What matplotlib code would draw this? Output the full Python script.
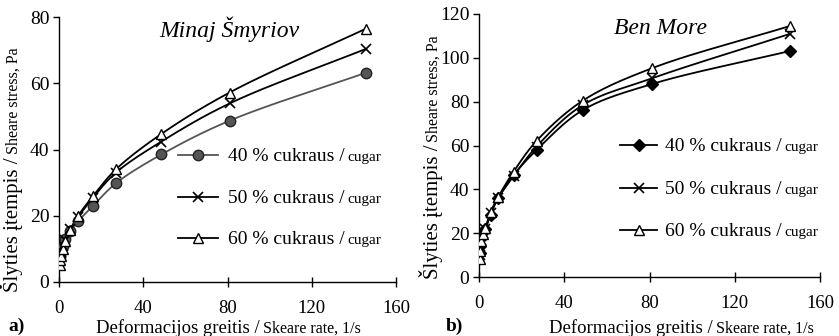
import numpy as np
import matplotlib
matplotlib.use('Agg')
import matplotlib.pyplot as plt
from matplotlib.lines import Line2D
from matplotlib.transforms import IdentityTransform

plt.rcParams['font.family'] = 'serif'
plt.rcParams['font.serif'] = ['Liberation Serif', 'DejaVu Serif']

# shear rate steps of the rotational viscometer, 1/s
rate = [0.333, 0.6, 1.0, 1.8, 3.0, 5.4, 9.0, 16.2, 27.0, 48.6, 81.0, 145.8]

# shear stress, Pa -- Minaj Smyriov
ms_40 = [7.5, 8.5, 9.5, 11.0, 13.0, 15.5, 18.3, 23.0, 29.8, 38.5, 48.7, 63.2]
ms_50 = [6.5, 7.8, 9.0, 10.8, 12.8, 16.0, 19.5, 25.5, 33.0, 42.4, 53.9, 70.4]
ms_60 = [5.0, 6.5, 8.0, 10.0, 12.3, 15.8, 19.9, 26.0, 34.0, 44.7, 57.2, 76.5]

# shear stress, Pa -- Ben More
bm_40 = [11.0, 14.0, 18.0, 20.5, 22.0, 28.5, 36.0, 46.5, 57.9, 76.1, 88.0, 103.1]
bm_50 = [10.0, 13.0, 17.0, 20.0, 22.0, 29.0, 36.0, 46.0, 59.5, 78.4, 90.6, 110.9]
bm_60 = [8.4, 12.0, 16.5, 19.5, 22.5, 29.5, 36.5, 48.0, 62.1, 80.4, 95.2, 114.5]

legend_big = ['40 % cukraus /', '50 % cukraus /', '60 % cukraus /']
legend_small = 'cugar'

W, H = 839, 336
fig = plt.figure(figsize=(W / 100, H / 100), dpi=100)
pix = IdentityTransform()


def smooth(ax, x, y, n=24):
    """Centripetal Catmull-Rom curve through the points, built in screen space."""
    p = ax.transData.transform(np.column_stack([x, y]))
    p = np.vstack([2 * p[0] - p[1], p, 2 * p[-1] - p[-2]])
    out = []
    for i in range(1, len(p) - 2):
        p0, p1, p2, p3 = p[i - 1], p[i], p[i + 1], p[i + 2]
        t0 = 0.0
        t1 = t0 + np.linalg.norm(p1 - p0) ** 0.5 + 1e-9
        t2 = t1 + np.linalg.norm(p2 - p1) ** 0.5 + 1e-9
        t3 = t2 + np.linalg.norm(p3 - p2) ** 0.5 + 1e-9
        t = np.linspace(t1, t2, n)[:, None]
        a1 = (t1 - t) / (t1 - t0) * p0 + (t - t0) / (t1 - t0) * p1
        a2 = (t2 - t) / (t2 - t1) * p1 + (t - t1) / (t2 - t1) * p2
        a3 = (t3 - t) / (t3 - t2) * p2 + (t - t2) / (t3 - t2) * p3
        b1 = (t2 - t) / (t2 - t0) * a1 + (t - t0) / (t2 - t0) * a2
        b2 = (t3 - t) / (t3 - t1) * a2 + (t - t1) / (t3 - t1) * a3
        out.append((t2 - t) / (t2 - t1) * b1 + (t - t1) / (t2 - t1) * b2)
    c = ax.transData.inverted().transform(np.vstack(out))
    return c[:, 0], c[:, 1]


def pieces(parts, x, y, rotation=0, gap=3):
    """Write text pieces of different sizes one after another on a baseline."""
    r = fig.canvas.get_renderer()
    for s, size, kw in parts:
        t = fig.text(x, y, s, fontsize=size, rotation=rotation,
                     rotation_mode='anchor', ha='left', va='baseline',
                     transform=pix, **kw)
        bb = t.get_window_extent(r)
        if rotation:
            y = bb.y1 + gap
        else:
            x = bb.x1 + gap


def setup(ax, ymax, ystep):
    ax.set_xlim(0, 160)
    ax.set_ylim(0, ymax)
    ax.set_xticks(np.arange(0, 161, 40))
    ax.set_yticks(np.arange(0, ymax + 1, ystep))
    for s in ['top', 'right']:
        ax.spines[s].set_visible(False)
    for s in ['left', 'bottom']:
        ax.spines[s].set_linewidth(1.0)
    ax.tick_params(axis='x', direction='inout', length=7, width=1.0,
                   pad=9.5, labelsize=13.5)
    ax.tick_params(axis='y', direction='out', length=4, width=1.0,
                   pad=3, labelsize=14)


ax1 = fig.add_axes([59 / W, (H - 282) / H, 337 / W, 265 / H])
ax2 = fig.add_axes([479 / W, (H - 277) / H, 341 / W, 263 / H])
setup(ax1, 80, 20)
setup(ax2, 120, 20)

styles1 = [
    (ms_40, dict(color='#555555', marker='o', ms=7.5, mfc='#555555', mec='#222222')),
    (ms_50, dict(color='black', marker='x', ms=7, mew=1.2, mec='black')),
    (ms_60, dict(color='black', marker='^', ms=7, mfc='white', mec='black')),
]
styles2 = [
    (bm_40, dict(color='black', marker='D', ms=6, mfc='black', mec='black')),
    (bm_50, dict(color='black', marker='x', ms=7, mew=1.2, mec='black')),
    (bm_60, dict(color='black', marker='^', ms=7, mfc='white', mec='black')),
]

for ax, styles in [(ax1, styles1), (ax2, styles2)]:
    for vals, st in styles:
        sx, sy = smooth(ax, rate, vals)
        ax.plot(sx, sy, color=st['color'], lw=1.3, zorder=2)
        mk = dict(st)
        mk.pop('color')
        ax.plot(rate, vals, ls='none', zorder=3, **mk)

fig.text(229, H - 37, 'Minaj Šmyriov', transform=pix, ha='center',
         va='baseline', fontsize=17, style='italic')
fig.text(660, H - 34, 'Ben More', transform=pix, ha='center',
         va='baseline', fontsize=17, style='italic')

# legends drawn by hand: line sample, marker and two-size label
legend_rows = [
    (styles1, 178, 218, 228, [155, 197, 238]),
    (styles2, 620, 657, 665, [145, 188, 230]),
]
for styles, x0, x1, xt, rows in legend_rows:
    for (vals, st), yr, big in zip(styles, rows, legend_big):
        yd = H - yr
        fig.add_artist(Line2D([x0, x1], [yd, yd], color=st['color'], lw=1.3,
                              transform=pix))
        mk = dict(st)
        mk.pop('color')
        fig.add_artist(Line2D([(x0 + x1) / 2], [yd], ls='none', transform=pix, **mk))
        pieces([(big, 14, {}), (legend_small, 11, {})], xt, yd - 6)

# axis titles
pieces([('Deformacijos greitis /', 13.5, {}), ('Skeare rate, 1/s', 11.5, {})], 96, H - 333)
pieces([('Deformacijos greitis /', 13.5, {}), ('Skeare rate, 1/s', 11.5, {})], 549, H - 333)
pieces([('Šlyties įtempis /', 15, {}), ('Sheare stress, Pa', 11.5, {})], 18, H - 292,
       rotation=90)
pieces([('Šlyties įtempis /', 15, {}), ('Sheare stress, Pa', 11.5, {})], 438, H - 279,
       rotation=90)

fig.text(8, H - 331, 'a)', fontsize=14, weight='bold', transform=pix)
fig.text(446, H - 331, 'b)', fontsize=14, weight='bold', transform=pix)

fig.savefig('out.png', dpi=100)
